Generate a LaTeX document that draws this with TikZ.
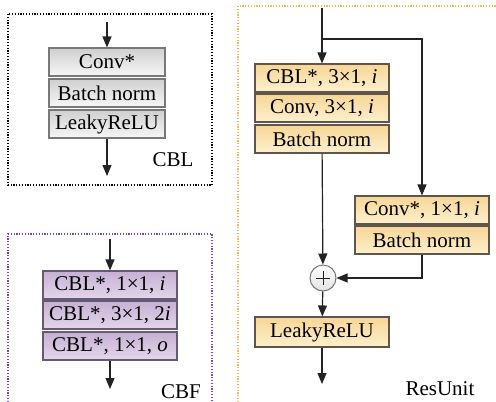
\documentclass[tikz,border=0pt]{standalone}
\usepackage{fontspec}
\setmainfont{Liberation Serif}
\usetikzlibrary{arrows.meta}
\definecolor{linec}{RGB}{35,35,35}
\definecolor{grayTop}{RGB}{208,208,208}
\definecolor{grayBot}{RGB}{246,246,246}
\definecolor{grayBd}{RGB}{120,120,120}
\definecolor{purTop}{RGB}{198,176,212}
\definecolor{purBot}{RGB}{228,214,234}
\definecolor{purBd}{RGB}{100,90,115}
\definecolor{orTop}{RGB}{247,214,150}
\definecolor{orBot}{RGB}{253,240,205}
\definecolor{orBd}{RGB}{95,85,75}
\definecolor{purFrame}{RGB}{120,70,190}
\definecolor{orFrame}{RGB}{245,185,70}
\tikzset{
  every node/.style={font=\fontsize{21}{25}\selectfont, inner sep=0pt},
  graybox/.style={draw=grayBd, line width=1.1pt, top color=grayTop, bottom color=grayBot, minimum width=116pt, minimum height=28pt},
  purbox/.style={draw=purBd, line width=1.1pt, top color=purTop, bottom color=purBot, minimum width=134pt, minimum height=28pt},
  orbox/.style={draw=orBd, line width=1.1pt, top color=orTop, bottom color=orBot, minimum width=134pt, minimum height=28pt},
  conn/.style={draw=linec, line width=1.2pt},
  arr/.style={conn, -{Triangle[length=11pt,width=9pt]}},
  frame/.style={line width=1.2pt, dash pattern=on 1.2pt off 1.6pt},
}
\begin{document}
\begin{tikzpicture}[x=1pt,y=-1pt]
\useasboundingbox (0,0) rectangle (496,402);
% frames
\draw[frame, draw=black] (8,14) rectangle (212,185);
\draw[frame, draw=purFrame] (8,402) -- (8,234) -- (212,234) -- (212,402);
\draw[frame, draw=orFrame] (238,402) -- (238,6) -- (496,6);

% CBL
\node[graybox] (c1) at (107,62) {Conv*};
\node[graybox] (c2) at (107,93) {Batch norm};
\node[graybox] (c3) at (107,124) {LeakyReLU};
\coordinate (cin) at (107,22);
\coordinate (cout) at (107,176);
\draw[arr] (cin) -- (c1);
\draw[arr] (c3) -- (cout);
\node (cbl) at (173,160) {CBL};

% CBF
\node[purbox] (f1) at (110,285) {CBL*, 1×1, \textit{i}};
\node[purbox] (f2) at (110,315) {CBL*, 3×1, 2\textit{i}};
\node[purbox] (f3) at (110,346) {CBL*, 1×1, \textit{o}};
\coordinate (fin) at (110,239);
\coordinate (fout) at (110,389);
\draw[arr] (fin) -- (f1);
\draw[arr] (f3) -- (fout);
\node (cbf) at (181,392) {CBF};

% ResUnit
\node[orbox] (r1) at (322,78) {CBL*, 3×1, \textit{i}};
\node[orbox] (r2) at (322,108) {Conv, 3×1, \textit{i}};
\node[orbox] (r3) at (322,139) {Batch norm};
\node[orbox] (s1) at (422,210) {Conv*, 1×1, \textit{i}};
\node[orbox] (s2) at (422,240) {Batch norm};
\node[circle, draw=grayBd, line width=1pt, top color=white, bottom color=grayTop!60, minimum size=26pt] (plus) at (323,278) {};
\draw[line width=0.9pt, draw=linec] ([xshift=-7pt]plus.center) -- ([xshift=7pt]plus.center)
  ([yshift=-7pt]plus.center) -- ([yshift=7pt]plus.center);
\node[orbox, minimum height=30pt] (r4) at (322,332) {LeakyReLU};
\coordinate (rin) at (322,8);
\coordinate (split) at (322,39);
\coordinate (corner) at (422,39);
\coordinate (rout) at (322,384);
\draw[conn] (rin) -- (split);
\draw[arr] (split) -- (r1);
\draw[arr] (split) -- (corner) -- (s1);
\draw[arr] (r3) -- (plus);
\draw[arr] (s2) |- (plus);
\draw[arr] (plus) -- (r4);
\draw[arr] (r4) -- (rout);
\node (res) at (440,389) {ResUnit};
\end{tikzpicture}
\end{document}
